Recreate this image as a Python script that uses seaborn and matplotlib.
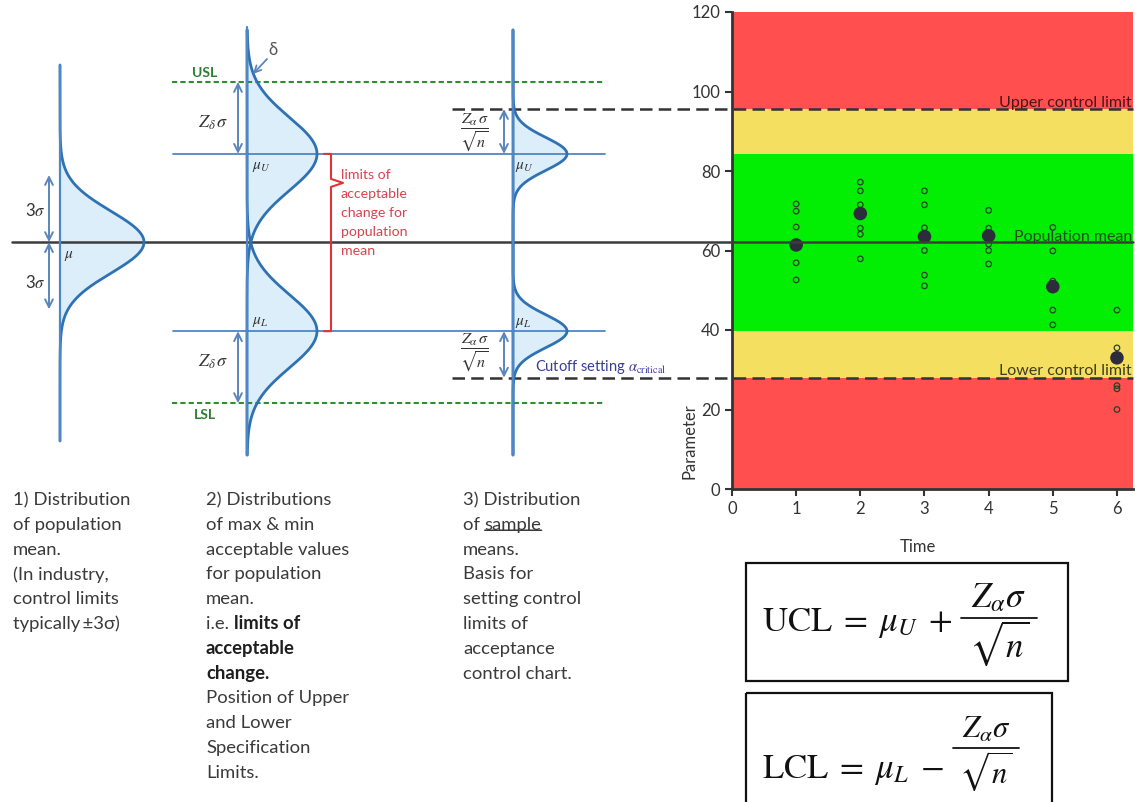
import numpy as np
import pandas as pd
import matplotlib
matplotlib.use("Agg")
import matplotlib.pyplot as plt
import seaborn as sns
from matplotlib.patches import Rectangle

sns.set_theme(style="ticks")
plt.rcParams["font.family"] = ["Lato", "DejaVu Sans"]
plt.rcParams["mathtext.fontset"] = "stix"

# ---- acceptance control chart values ----
times = [1, 2, 3, 4, 5, 6]
samples_t1 = [71.7, 69.9, 65.9, 56.9, 52.6]
samples_t2 = [77.2, 75.0, 71.5, 65.6, 64.1, 57.9]
samples_t3 = [75.0, 71.5, 65.7, 60.0, 53.8, 51.1]
samples_t4 = [70.1, 65.6, 61.6, 60.0, 56.6]
samples_t5 = [65.8, 59.9, 52.3, 45.0, 41.3]
samples_t6 = [45.0, 35.5, 26.0, 25.2, 20.0]
sample_means = [61.4, 69.3, 63.5, 63.7, 50.9, 33.0]

lcl, mu_l, pop_mean, mu_u, ucl = 28.0, 39.7, 62.1, 84.3, 95.6
lsl, usl = 21.6, 102.4
y_max = 120

band_bounds = [0, lcl, mu_l, mu_u, ucl, y_max]
band_colors = ["#ff4f4f", "#f5df60", "#02ee02", "#f5df60", "#ff4f4f"]

x_ticks = [0, 1, 2, 3, 4, 5, 6]
y_ticks = [0, 20, 40, 60, 80, 100, 120]

all_samples = [samples_t1, samples_t2, samples_t3, samples_t4, samples_t5, samples_t6]
df = pd.DataFrame(
    [(t, v) for t, vals in zip(times, all_samples) for v in vals],
    columns=["Time", "Parameter"],
)
df_means = pd.DataFrame({"Time": times, "Parameter": sample_means})

# ---- spreads used for the schematic distributions (parameter units) ----
sd_population = 7.8
sd_limits = 9.2
sd_sample = 4.15
three_sigma_span = 16.9

W, H = 1135, 802
fig = plt.figure(figsize=(W / 100, H / 100), dpi=100)
fig.patch.set_facecolor("white")

ax = fig.add_axes([732 / W, 1 - 489 / H, 401 / W, 477 / H])
for lo, hi, c in zip(band_bounds[:-1], band_bounds[1:], band_colors):
    ax.axhspan(lo, hi, color=c, lw=0, zorder=0)

sns.scatterplot(data=df, x="Time", y="Parameter", ax=ax, s=16,
                color="#2a3f2a", linewidth=0.9, zorder=3)
ax.collections[-1].set_facecolor("none")
ax.collections[-1].set_edgecolor("#2a3f2a")
sns.scatterplot(data=df_means, x="Time", y="Parameter", ax=ax, s=95,
                color="#2c2c3a", edgecolor="none", zorder=4)

ax.set_xlim(0, 6.25)
ax.set_ylim(0, y_max)
ax.set_xticks(x_ticks)
ax.set_yticks(y_ticks)
ax.tick_params(direction="out", length=5, width=1.5, color="#333333",
               labelsize=12, labelcolor="#333333")
for s in ["top", "right"]:
    ax.spines[s].set_visible(False)
for s in ["left", "bottom"]:
    ax.spines[s].set_linewidth(2)
    ax.spines[s].set_color("#333333")
ax.set_xlabel("Time", fontsize=12, color="#333333")
ax.set_ylabel("Parameter", fontsize=12, color="#333333")
ax.xaxis.set_label_coords(0.464, -0.105)
ax.yaxis.set_label_coords(-0.085, 0.1)

yt = ax.get_yaxis_transform()
ax.text(0.997, ucl + 0.4, "Upper control limit", transform=yt, ha="right",
        va="baseline", fontsize=11.5, color="#4a1515", zorder=6)
ax.text(0.997, pop_mean + 0.4, "Population mean", transform=yt, ha="right",
        va="baseline", fontsize=11.5, color="#1e4d1e", zorder=6)
ax.text(0.997, lcl + 0.7, "Lower control limit", transform=yt, ha="right",
        va="baseline", fontsize=11.5, color="#3d3d1f", zorder=6)

# ---- schematic overlay in pixel units ----
ovl = fig.add_axes([0, 0, 1, 1])
ovl.set_xlim(0, W)
ovl.set_ylim(H, 0)
ovl.axis("off")
ovl.patch.set_visible(False)
ovl.set_zorder(5)


def ypx(v):
    v = np.atleast_1d(np.asarray(v, dtype=float))
    pts = ax.transData.transform(np.column_stack([np.zeros_like(v), v]))
    return H - pts[:, 1]


px_per_unit = float(ypx(0)[0] - ypx(1)[0])
chart_right = (ax.get_position().x1) * W

axis_c = "#4f86c6"
curve_c = "#2f72b4"
fill_c = "#ddeefb"
arrow_c = "#5a86bb"
text_c = "#333333"


def normal_curve(x0, amp, center, sd, top, bottom):
    ys = np.linspace(top, bottom, 500)
    cy = ypx(center)[0]
    xs = x0 + amp * np.exp(-0.5 * ((ys - cy) / (sd * px_per_unit)) ** 2)
    ovl.fill(np.r_[x0, xs, x0], np.r_[ys[0], ys, ys[-1]], color=fill_c, lw=0, zorder=1)
    ovl.plot(xs, ys, color=curve_c, lw=2, zorder=3)


def double_arrow(x, v1, v2):
    ovl.annotate("", xy=(x, ypx(v1)[0]), xytext=(x, ypx(v2)[0]),
                 arrowprops=dict(arrowstyle="<->", color=arrow_c, lw=1.4,
                                 shrinkA=0, shrinkB=0, mutation_scale=14), zorder=4)


def hline(v, x1, x2, **kw):
    y = ypx(v)[0]
    ovl.plot([x1, x2], [y, y], **kw)


# horizontal reference lines
hline(pop_mean, 12, chart_right, color="#3c3c3c", lw=1.8, zorder=2)
dash_kw = dict(color="#333333", lw=1.8, ls=(0, (5, 2.5)), zorder=2)
hline(ucl, 452, chart_right, **dash_kw)
hline(lcl, 452, chart_right, **dash_kw)
for v in (mu_u, mu_l):
    hline(v, 173, 605, color=axis_c, lw=1.3, zorder=2)
for v in (usl, lsl):
    hline(v, 172, 605, color="#2f8f2f", lw=1.5, ls=(0, (2.5, 1.5)), zorder=2)

# 1) population distribution
normal_curve(60, 84, pop_mean, sd_population, 65, 441)
ovl.plot([60, 60], [65, 441], color=axis_c, lw=1.6, zorder=3)
double_arrow(49, pop_mean, pop_mean + three_sigma_span)
double_arrow(49, pop_mean, pop_mean - three_sigma_span)
ovl.text(35, 211, r"3$\sigma$", ha="center", va="center", fontsize=12, color=text_c)
ovl.text(35, 283, r"3$\sigma$", ha="center", va="center", fontsize=12, color=text_c)
ovl.text(64, 256, r"$\mu$", ha="left", va="center", fontsize=11, color=text_c)

# 2) acceptable limits distributions
normal_curve(247, 70, mu_u, sd_limits, 30, 455)
normal_curve(247, 70, mu_l, sd_limits, 30, 455)
ovl.plot([247, 247], [27, 455], color=axis_c, lw=1.6, zorder=3)
double_arrow(238, usl, mu_u)
double_arrow(238, mu_l, lsl)
ovl.text(213, 123, r"$Z_\delta\,\sigma$", ha="center", va="center", fontsize=13, color=text_c)
ovl.text(213, 362, r"$Z_\delta\,\sigma$", ha="center", va="center", fontsize=13, color=text_c)
ovl.text(252, ypx(mu_u)[0] + 13, r"$\mu_U$", ha="left", va="center", fontsize=11, color=text_c)
ovl.text(252, ypx(mu_l)[0] - 9, r"$\mu_L$", ha="left", va="center", fontsize=11, color=text_c)
ovl.text(205, ypx(usl)[0] - 9, "USL", ha="center", va="center", fontsize=10,
         fontweight="bold", color="#2e7d32")
ovl.text(205, ypx(lsl)[0] + 12, "LSL", ha="center", va="center", fontsize=10,
         fontweight="bold", color="#2e7d32")
ovl.text(273, 50, "δ", ha="center", va="center", fontsize=12, color="#555555")
ovl.annotate("", xy=(253, 74), xytext=(267, 59),
             arrowprops=dict(arrowstyle="->", color=arrow_c, lw=1.3,
                             shrinkA=0, shrinkB=0, mutation_scale=12))

# red brace spanning the limits of acceptable change
yu, yl = ypx(mu_u)[0], ypx(mu_l)[0]
ovl.plot([324, 331, 331, 343, 331, 331, 324],
         [yu, yu, yu + 25, yu + 29, yu + 33, yl, yl],
         color="#e03535", lw=1.5, zorder=3)
for i, line in enumerate(["limits of", "acceptable", "change for", "population", "mean"]):
    ovl.text(341, 175 + i * 19, line, ha="left", va="center", fontsize=10.2, color="#d9434f")

# 3) sample mean distributions
normal_curve(513, 54, mu_u, sd_sample, 30, 455)
normal_curve(513, 54, mu_l, sd_sample, 30, 455)
ovl.plot([513, 513], [30, 455], color=axis_c, lw=1.6, zorder=3)
double_arrow(504, ucl, mu_u)
double_arrow(504, mu_l, lcl)
frac = r"$\dfrac{Z_\alpha\,\sigma}{\sqrt{n}}$"
ovl.text(475, 132, frac, ha="center", va="center", fontsize=11.5, color=text_c)
ovl.text(475, 352, frac, ha="center", va="center", fontsize=11.5, color=text_c)
ovl.text(515, ypx(mu_u)[0] + 13, r"$\mu_U$", ha="left", va="center", fontsize=11, color=text_c)
ovl.text(515, ypx(mu_l)[0] - 8, r"$\mu_L$", ha="left", va="center", fontsize=11, color=text_c)
ovl.text(535, 367, r"Cutoff setting $\alpha_{\mathrm{critical}}$", ha="left", va="center",
         fontsize=10.5, color="#3b3b9b")

# explanatory text columns
line_gap = 24.8
fs_body = 13.3
body = dict(ha="left", va="center", fontsize=fs_body, color="#3a3a3a")
col1 = ["1) Distribution", "of population", "mean.", "(In industry,",
        "control limits", "typically\u2009±3σ)"]
for i, line in enumerate(col1):
    ovl.text(13, 500 + i * line_gap, line, **body)

col2 = ["2) Distributions", "of max & min", "acceptable values", "for population",
        "mean.", None, "acceptable", "change.", "Position of Upper", "and Lower",
        "Specification", "Limits."]
for i, line in enumerate(col2):
    y = 500 + i * line_gap
    if line is None:
        t = ovl.text(206, y, "i.e. ", **body)
        ovl.annotate("limits of", xy=(1, 0), xycoords=t, ha="left", va="bottom",
                     fontsize=fs_body, color="#1e1e1e", fontweight="bold")
    elif line in ("acceptable", "change.") and i > 5:
        ovl.text(206, y, line, fontweight="bold", **{**body, "color": "#1e1e1e"})
    else:
        ovl.text(206, y, line, **body)

col3 = ["3) Distribution", None, "means.", "Basis for", "setting control",
        "limits of", "acceptance", "control chart."]
for i, line in enumerate(col3):
    y = 500 + i * line_gap
    if line is None:
        t = ovl.text(463, y, "of ", **body)
        s = ovl.annotate("sample", xy=(1, 0), xycoords=t, ha="left", va="bottom",
                         fontsize=fs_body, color="#3a3a3a")
        ovl.annotate("", xy=(0, 0.16), xycoords=s, xytext=(1, 0.16), textcoords=s,
                     arrowprops=dict(arrowstyle="-", color="#3a3a3a", lw=1.1,
                                     shrinkA=0, shrinkB=0))
    else:
        ovl.text(463, y, line, **body)

# formula boxes
ink = "#111111"
ovl.add_patch(Rectangle((746, 563), 322, 118, fill=False, ec=ink, lw=1.6, zorder=2))
ovl.add_patch(Rectangle((746, 693), 306, 125, fill=False, ec=ink, lw=1.6, zorder=2))


def control_limit_formula(lhs, x_left, y_mid, frac_x, frac_bar_y, frac_w, fs_frac):
    ovl.text(x_left, y_mid, lhs, ha="left", va="center", fontsize=25, color=ink)
    ovl.text(frac_x, frac_bar_y - 4, r"$Z_\alpha\sigma$", ha="center", va="bottom",
             fontsize=fs_frac, color=ink)
    ovl.plot([frac_x - frac_w / 2, frac_x + frac_w / 2], [frac_bar_y, frac_bar_y],
             color=ink, lw=1.3)
    ovl.text(frac_x, frac_bar_y + 1, r"$\sqrt{n}$", ha="center", va="top",
             fontsize=fs_frac, color=ink)


control_limit_formula(r"$\mathrm{UCL}\;=\;\mu_U\;+$", 762, 623, 999, 618, 76, 25)
control_limit_formula(r"$\mathrm{LCL}\;=\;\mu_L\;-$", 762, 770, 986, 748, 66, 22)

fig.savefig("out.png", dpi=100, facecolor="white")
